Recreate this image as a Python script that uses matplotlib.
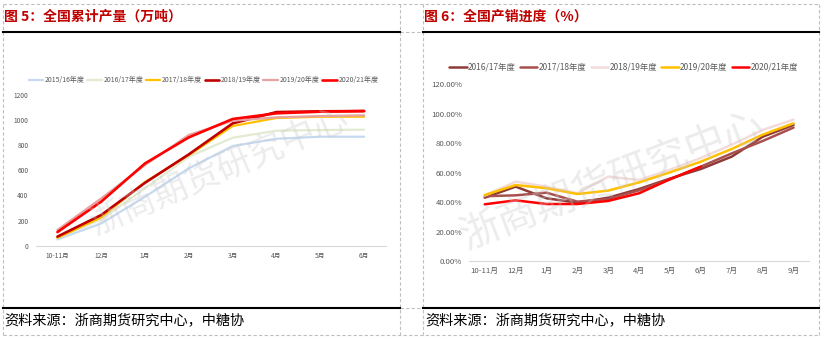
import matplotlib
matplotlib.use("Agg")
import matplotlib.pyplot as plt
import numpy as np
from matplotlib.lines import Line2D

plt.rcParams['font.family'] = ['Noto Sans CJK SC', 'DejaVu Sans']

# ---------------- data: left chart (cumulative production, 万吨) ----------------
left_months = ['10-11月', '12月', '1月', '2月', '3月', '4月', '5月', '6月']
left_series = ['2015/16年度', '2016/17年度', '2017/18年度', '2018/19年度', '2019/20年度', '2020/21年度']
prod_1516 = [50, 177, 389, 615, 792, 850, 866, 866]
prod_1617 = [60, 209, 456, 707, 858, 914, 919, 922]
prod_1718 = [62, 225, 506, 720, 951, 1015, 1025, 1025]
prod_1819 = [72, 244, 500, 726, 972, 1062, 1068, 1070]
prod_1920 = [125, 376, 641, 880, 993, 1020, 1030, 1036]
prod_2021 = [108, 350, 654, 861, 1007, 1052, 1065, 1070]
left_colors = ['#C6D9F0', '#E3EAD2', '#FFC000', '#C00000', '#E6A3A3', '#FF0000']
left_ticks = [0, 200, 400, 600, 800, 1000, 1200]

# ---------------- data: right chart (sales progress, %) ----------------
right_months = ['10-11月', '12月', '1月', '2月', '3月', '4月', '5月', '6月', '7月', '8月', '9月']
right_series = ['2016/17年度', '2017/18年度', '2018/19年度', '2019/20年度', '2020/21年度']
sale_1617 = [43.0, 50.5, 42.6, 39.6, 43.0, 48.9, 56.0, 62.5, 70.9, 84.4, 92.4]
sale_1718 = [44.0, 44.6, 46.4, 40.3, 42.1, 48.0, 55.5, 64.1, 73.1, 81.5, 90.6]
sale_1819 = [44.5, 53.9, 50.5, 46.0, 57.3, 55.0, 62.0, 70.0, 79.0, 89.0, 96.0]
sale_1920 = [44.8, 51.6, 49.4, 45.5, 47.8, 53.4, 60.2, 67.5, 76.1, 85.8, 93.5]
sale_2021 = [38.5, 41.2, 38.7, 38.7, 40.8, 46.0, 55.5, 64.1, None, None, None]
right_colors = ['#8E3A38', '#A9504E', '#F2DCDB', '#FFC000', '#FF0000']
right_ticks = [0, 20, 40, 60, 80, 100, 120]

W, H = 824, 339
fig = plt.figure(figsize=(W / 100, H / 100), dpi=100)


def fx(px):
    return px / W


def fy(py):
    return 1 - py / H


# ---------------- page frame (dashed borders, title rules) ----------------
dash_kw = dict(color='#BFBFBF', lw=0.8, ls=(0, (3, 2)), transform=fig.transFigure)
for x in [3, 400, 423, 819]:
    fig.add_artist(Line2D([fx(x), fx(x)], [fy(4), fy(335)], **dash_kw))
fig.add_artist(Line2D([fx(3), fx(819)], [fy(4), fy(4)], **dash_kw))
fig.add_artist(Line2D([fx(3), fx(819)], [fy(335), fy(335)], **dash_kw))
fig.add_artist(Line2D([fx(400), fx(423)], [fy(31.5), fy(31.5)], **dash_kw))
fig.add_artist(Line2D([fx(400), fx(423)], [fy(308.3), fy(308.3)], **dash_kw))
solid_kw = dict(color='black', lw=1.5, transform=fig.transFigure)
for x0, x1 in [(3, 400), (423, 819)]:
    fig.add_artist(Line2D([fx(x0), fx(x1)], [fy(31.5), fy(31.5)], **solid_kw))
    fig.add_artist(Line2D([fx(x0), fx(x1)], [fy(308.3), fy(308.3)], **solid_kw))

title_kw = dict(color='#C00000', fontsize=10, fontweight='bold', va='center', ha='left')
fig.text(fx(4), fy(17), '图 5：全国累计产量（万吨）', **title_kw)
fig.text(fx(424), fy(17), '图 6：全国产销进度（%）', **title_kw)

src_kw = dict(color='#000000', fontsize=10.2, va='center', ha='left')
fig.text(fx(4), fy(320), '资料来源：浙商期货研究中心，中糖协', **src_kw)
fig.text(fx(425), fy(320), '资料来源：浙商期货研究中心，中糖协', **src_kw)

# watermarks
wm_kw = dict(color='#C8C8C8', alpha=0.35, ha='center', va='center', zorder=0)
fig.text(fx(220), fy(172), '浙商期货研究中心', fontsize=25, rotation=23, **wm_kw)
fig.text(fx(612), fy(181), '浙商期货研究中心', fontsize=29, rotation=21, **wm_kw)

tick_color = '#595959'

# ---------------- left chart ----------------
axL = fig.add_axes([fx(35.5), fy(245.7), fx(386) - fx(35.5), fy(94.7) - fy(245.7)])
axL.patch.set_alpha(0)
xl = np.arange(len(left_months))
left_data = [prod_1516, prod_1617, prod_1718, prod_1819, prod_1920, prod_2021]
for name, vals, c in zip(left_series, left_data, left_colors):
    lw = 1.9 if c in ('#FF0000', '#C00000') else 1.6
    axL.plot(xl, vals, color=c, lw=lw, label=name, solid_capstyle='round')
axL.set_xlim(-0.5, len(left_months) - 0.5)
axL.set_ylim(0, 1200)
axL.set_yticks(left_ticks)
axL.set_yticklabels([str(v) for v in left_ticks])
axL.set_xticks(xl)
axL.set_xticklabels(left_months)
axL.tick_params(axis='both', length=0, colors=tick_color, labelsize=4.8)
axL.tick_params(axis='y', pad=5)
axL.tick_params(axis='x', pad=4.5)
for s in ['top', 'right', 'left']:
    axL.spines[s].set_visible(False)
axL.spines['bottom'].set_color('#D9D9D9')
axL.spines['bottom'].set_linewidth(0.8)
axL.legend(loc='center', bbox_to_anchor=(fx(203.5), fy(80)), bbox_transform=fig.transFigure,
           ncol=6, frameon=False, fontsize=5.0, handlelength=2.1, handletextpad=0.25,
           columnspacing=0.35, labelcolor=tick_color)

# ---------------- right chart ----------------
axR = fig.add_axes([fx(469.3), fy(261), fx(809) - fx(469.3), fy(84.3) - fy(261)])
axR.patch.set_alpha(0)
xr = np.arange(len(right_months))
right_data = [sale_1617, sale_1718, sale_1819, sale_1920, sale_2021]
for name, vals, c in zip(right_series, right_data, right_colors):
    v = np.array([np.nan if a is None else a for a in vals], dtype=float)
    lw = 1.8
    axR.plot(xr, v, color=c, lw=lw, label=name, solid_capstyle='round')
axR.set_xlim(-0.5, len(right_months) - 0.5)
axR.set_ylim(0, 120)
axR.set_yticks(right_ticks)
axR.set_yticklabels(['%.2f%%' % v for v in right_ticks])
axR.set_xticks(xr)
axR.set_xticklabels(right_months)
axR.tick_params(axis='both', length=0, colors=tick_color, labelsize=5.6)
axR.tick_params(axis='y', pad=5)
axR.tick_params(axis='x', pad=4)
for s in ['top', 'right', 'left']:
    axR.spines[s].set_visible(False)
axR.spines['bottom'].set_color('#D9D9D9')
axR.spines['bottom'].set_linewidth(0.8)
axR.legend(loc='center', bbox_to_anchor=(fx(623.5), fy(67)), bbox_transform=fig.transFigure,
           ncol=5, frameon=False, fontsize=6.0, handlelength=2.1, handletextpad=0.15,
           columnspacing=0.5, labelcolor=tick_color)

fig.savefig('out.png', dpi=100)
